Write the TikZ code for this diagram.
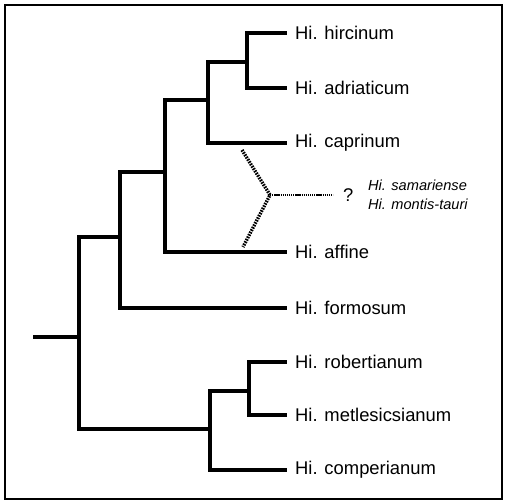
\documentclass[tikz,border=0pt]{standalone}
\usepackage{fontspec}
\setmainfont{Liberation Sans}
\usetikzlibrary{positioning}

\begin{document}
\begin{tikzpicture}[x=1pt,y=-1pt,
  branch/.style={line width=3.6pt,line cap=rect,line join=miter},
  hybrid/.style={line width=3.4pt,dash pattern=on 1.6pt off 1.1pt},
  unsure/.style={line width=1.8pt,dash pattern=on 1.3pt off 0.8pt},
  taxon/.style={inner sep=0pt,anchor=west,font=\fontsize{18.4}{20}\selectfont},
  hybtaxon/.style={inner sep=0pt,anchor=west,font=\fontsize{14.6}{16}\selectfont\itshape}]
\useasboundingbox (0,0) rectangle (506,501);
\draw[line width=1.5pt] (5,5) rectangle (502,499);
\coordinate (hirc) at (285,33);
\coordinate (adri) at (285,88);
\coordinate (capr) at (285,143);
\coordinate (affi) at (285,252);
\coordinate (form) at (285,308);
\coordinate (robe) at (285,362);
\coordinate (metl) at (285,415);
\coordinate (comp) at (285,470);
\coordinate (n1) at (247,62);
\coordinate (n2) at (208,100);
\coordinate (n3) at (165,172);
\coordinate (n4) at (120,237);
\coordinate (n5) at (249,391);
\coordinate (n6) at (210,429);
\coordinate (n7) at (79,337);
\coordinate (base) at (35,337);
\draw[branch] (base) -- (n7);
\draw[branch] (n7) |- (n4);
\draw[branch] (n7) |- (n6);
\draw[branch] (n4) |- (n3);
\draw[branch] (n4) |- (form);
\draw[branch] (n3) |- (n2);
\draw[branch] (n3) |- (affi);
\draw[branch] (n2) |- (n1);
\draw[branch] (n2) |- (capr);
\draw[branch] (n1) |- (hirc);
\draw[branch] (n1) |- (adri);
\draw[branch] (n6) |- (n5);
\draw[branch] (n6) |- (comp);
\draw[branch] (n5) |- (robe);
\draw[branch] (n5) |- (metl);
\node[taxon,right=10pt of hirc] (lhirc) {Hi. hircinum};
\node[taxon,right=10pt of adri] (ladri) {Hi. adriaticum};
\node[taxon,right=10pt of capr] (lcapr) {Hi. caprinum};
\node[taxon,right=10pt of affi] (laffi) {Hi. affine};
\node[taxon,right=10pt of form] (lform) {Hi. formosum};
\node[taxon,right=10pt of robe] (lrobe) {Hi. robertianum};
\node[taxon,right=10pt of metl] (lmetl) {Hi. metlesicsianum};
\node[taxon,right=10pt of comp] (lcomp) {Hi. comperianum};
\coordinate (hyup) at (242,150);
\coordinate (hymid) at (270,195);
\coordinate (hylow) at (243,247);
\coordinate (hyend) at (333,195);
\draw[hybrid] (hyup) -- (hymid) -- (hylow);
\draw[unsure] (hymid) -- (hyend);
\node[taxon,right=10pt of hyend] (qmark) {?};
\node[hybtaxon] (lsama) at (368,185) {Hi. samariense};
\node[hybtaxon] (lmont) at (368,204) {Hi. montis-tauri};
\end{tikzpicture}
\end{document}
